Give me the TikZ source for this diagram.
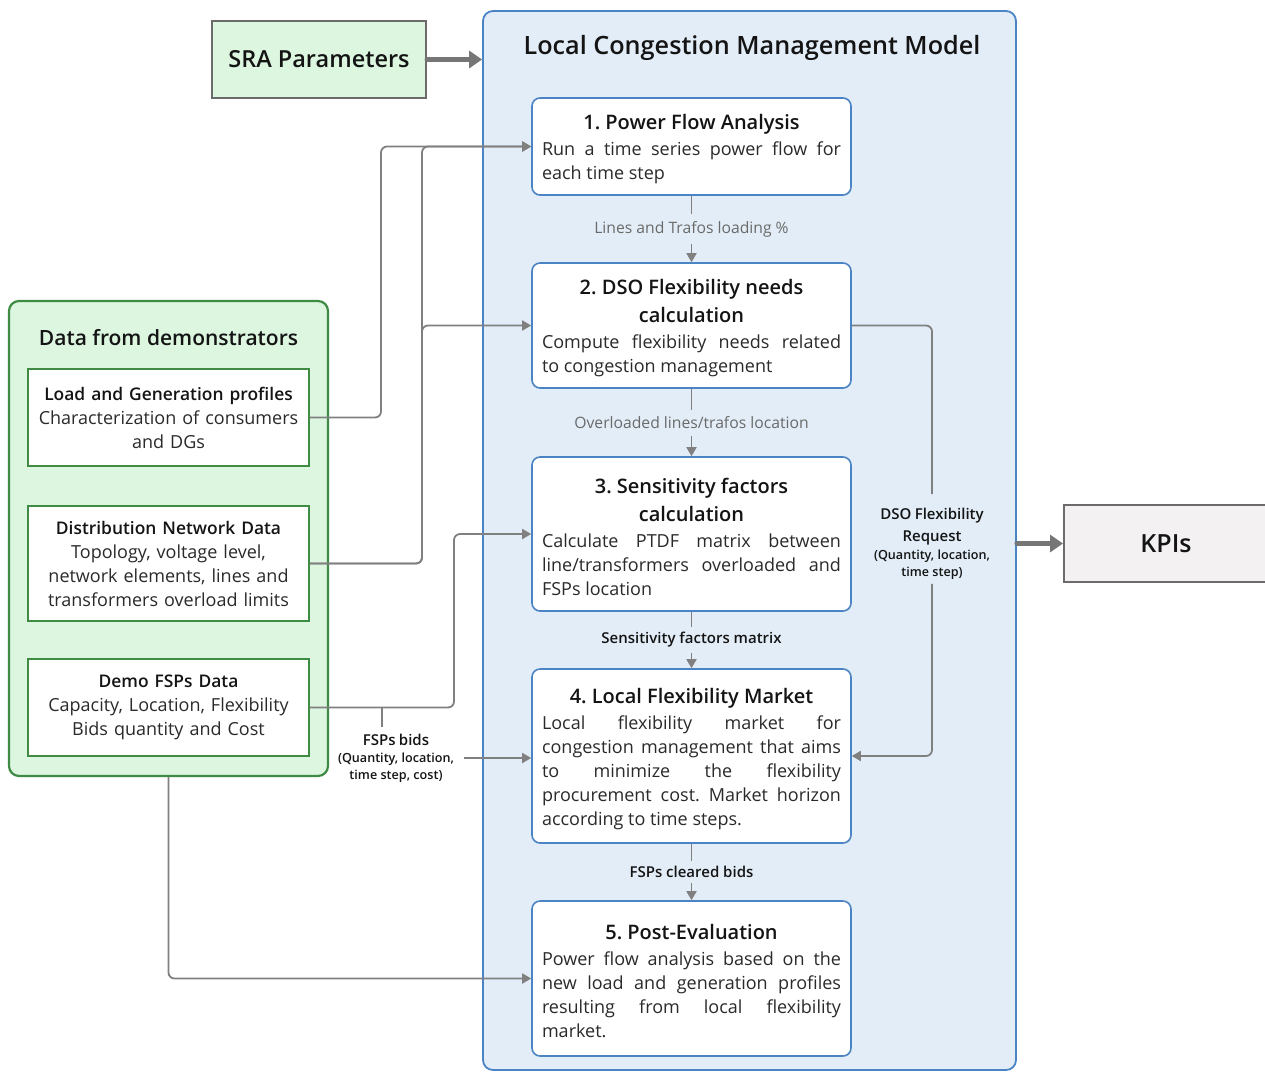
\documentclass[tikz,border=0pt]{standalone}
\usepackage{fontspec}
\setmainfont{Open Sans}
\IfFontExistsTF{Open Sans SemiBold}{\newfontfamily\semib{Open Sans SemiBold}}{%
  \IfFontExistsTF{Open Sans Semibold}{\newfontfamily\semib{Open Sans Semibold}}{%
    \newfontfamily\semib{Open Sans}[FakeBold=1.2]}}
\usetikzlibrary{arrows.meta}

% justified text without hyphenation
\hyphenpenalty=10000
\exhyphenpenalty=10000
\tolerance=10000
\frenchspacing

\definecolor{lcmfill}{HTML}{E3EDF7}
\definecolor{lcmline}{HTML}{4A84C4}
\definecolor{greenfill}{HTML}{DCF6E0}
\definecolor{greenline}{HTML}{3F8B44}
\definecolor{graybox}{HTML}{6B6B6B}
\definecolor{connGray}{HTML}{808080}
\definecolor{kpifill}{HTML}{F3F1F1}
\definecolor{titletxt}{HTML}{141414}
\definecolor{bodytxt}{HTML}{2A2A2A}
\definecolor{lbltxt}{HTML}{6A6A6A}

\newcommand{\bodysize}{\fontsize{18}{24}\selectfont}
\newcommand{\steptitle}[1]{{\centering\semib\color{titletxt}\fontsize{20}{28}\selectfont #1\par}\vspace{2pt}}
\newcommand{\stepend}{\par\vspace{-6pt}}
\newcommand{\datatitle}[1]{{\semib\color{titletxt}\fontsize{17.4}{24}\selectfont #1}}

\tikzset{
  stepbox/.style={draw=lcmline, line width=1.6pt, fill=white, rounded corners=8pt,
    text width=299pt, inner xsep=10pt, inner ysep=0pt, align=justify,
    font=\bodysize, text=bodytxt},
  databox/.style={draw=greenline, line width=2pt, fill=white, minimum width=281pt,
    text width=275pt, inner xsep=3pt, inner ysep=0pt, align=center,
    font=\bodysize, text=bodytxt},
  connector/.style={draw=connGray, line width=1.8pt, rounded corners=6pt},
  tip/.style={-{Triangle[length=9pt,width=10pt]}},
  bigarrow/.style={draw=connGray!92!black, line width=5pt, line cap=round,
    -{Triangle[length=13pt,width=17pt]}},
  flowlabel/.style={inner xsep=2pt, inner ysep=7pt, align=center},
  sidelabel/.style={inner sep=4pt, text width=140pt, align=center, text=titletxt},
}

\begin{document}
\begin{tikzpicture}[x=1pt, y=-1pt]
\useasboundingbox (0,0) rectangle (1265,1072);

% main model container
\node[draw=lcmline, line width=1.8pt, fill=lcmfill, rounded corners=10pt,
      minimum width=533pt, minimum height=1059pt, inner sep=0pt] (lcm) at (749.5,540.5) {};
\node[font=\semib\fontsize{25.2}{30}\selectfont, text=titletxt] (lcmtitle) at (752,48)
  {Local Congestion Management Model};

% external inputs and outputs
\node[draw=graybox, line width=2pt, fill=greenfill, minimum width=214pt, minimum height=77pt,
      font=\semib\fontsize{23.5}{30}\selectfont, text=titletxt] (sra) at (319,59.5) {SRA Parameters};
\node[draw=graybox, line width=2pt, fill=kpifill, minimum width=204pt, minimum height=77pt,
      font=\semib\fontsize{25}{30}\selectfont, text=titletxt] (kpi) at (1166,543.5) {KPIs};

% data container
\node[draw=greenline, line width=2.2pt, fill=greenfill, rounded corners=10pt,
      minimum width=319pt, minimum height=475pt, inner sep=0pt] (data) at (168.5,538.5) {};
\node[font=\semib\fontsize{21}{28}\selectfont, text=titletxt] (datatitle) at (168.5,338)
  {Data from demonstrators};

\node[databox, minimum height=97pt] (load) at (168.5,417.5)
  {\datatitle{Load and Generation profiles}\\
   Characterization of consumers\\and DGs};
\node[databox, minimum height=115pt] (dist) at (168.5,563.5)
  {\datatitle{Distribution Network Data}\\
   Topology, voltage level,\\network elements, lines and\\transformers overload limits};
\node[databox, minimum height=97pt] (fspd) at (168.5,707.5)
  {\datatitle{Demo FSPs Data}\\
   Capacity, Location, Flexibility\\Bids quantity and Cost};

% process steps
\node[stepbox, minimum height=97pt] (b1) at (691.5,146.5)
  {\steptitle{1. Power Flow Analysis}
   Run a time series power flow for\linebreak each time step\stepend};
\node[stepbox, minimum height=125pt] (b2) at (691.5,325.5)
  {\steptitle{2. DSO Flexibility needs\\calculation}
   Compute flexibility needs related\linebreak to congestion management\stepend};
\node[stepbox, minimum height=154pt] (b3) at (691.5,534)
  {\steptitle{3. Sensitivity factors\\calculation}
   Calculate PTDF matrix between\linebreak line/transformers overloaded and\linebreak FSPs location\stepend};
\node[stepbox, minimum height=174pt] (b4) at (691.5,756)
  {\steptitle{4. Local Flexibility Market}
   Local flexibility market for\linebreak congestion management that aims\linebreak
   to minimize the flexibility\linebreak procurement cost. Market horizon\linebreak
   according to time steps.\stepend};
\node[stepbox, minimum height=155pt] (b5) at (691.5,978.5)
  {\steptitle{5. Post-Evaluation}
   Power flow analysis based on the\linebreak new load and generation profiles\linebreak
   resulting from local flexibility\linebreak market.\stepend};

% labels on the flow between steps
\node[flowlabel, font=\fontsize{15.7}{18}\selectfont, text=lbltxt] (l1) at (691.5,229)
  {Lines and Trafos loading \%};
\node[flowlabel, font=\fontsize{15.7}{18}\selectfont, text=lbltxt] (l2) at (691.5,423)
  {Overloaded lines/trafos location};
\node[flowlabel, inner ysep=5pt, font=\semib\fontsize{15}{18}\selectfont, text=titletxt] (l3) at (691.5,640)
  {Sensitivity factors matrix};
\node[flowlabel, inner ysep=5pt, font=\semib\fontsize{15}{18}\selectfont, text=titletxt] (l4) at (691.5,872)
  {FSPs cleared bids};

\node[sidelabel] (dso) at (932,544)
  {{\semib\fontsize{15}{22}\selectfont DSO Flexibility\\Request\par}
   {\semib\fontsize{12.6}{17.5}\selectfont (Quantity, location,\\time step)\par}};
\node[sidelabel] (fspbids) at (396,758)
  {{\semib\fontsize{15}{19}\selectfont FSPs bids\par}
   {\semib\fontsize{12.6}{17}\selectfont (Quantity, location,\\time step, cost)\par}};

% flow between steps
\draw[connector] (b1.south) -- (l1.north);
\draw[connector, tip] (l1.south) -- (b2.north);
\draw[connector] (b2.south) -- (l2.north);
\draw[connector, tip] (l2.south) -- (b3.north);
\draw[connector] (b3.south) -- (l3.north);
\draw[connector, tip] (l3.south) -- (b4.north);
\draw[connector] (b4.south) -- (l4.north);
\draw[connector, tip] (l4.south) -- (b5.north);

% flexibility request from step 2 to the market
\draw[connector] (b2.east) -| ([yshift=10pt]dso.north);
\draw[connector, tip] (dso.south) |- (b4.east);

% demonstrator data feeding the steps
\draw[connector, tip] (load.east) -- ++(71,0) |- (b1.west);
\draw[connector, tip] (dist.east) -- ++(112,0) |- (b1.west);
\draw[connector, tip] (dist.east) -- ++(112,0) |- (b2.west);
\draw[connector, tip] (fspd.east) -- ++(144,0) |- (b3.west);
\draw[connector] ([xshift=-14pt,yshift=3pt]fspbids.north) -- ([xshift=-14pt]fspbids.north |- fspd.east);
\draw[connector, tip] ([xshift=-6pt]fspbids.east) -- (fspbids.east -| b4.west);
\draw[connector, tip] (data.south) |- (b5.west);

% model inputs and outputs
\draw[bigarrow] (sra.east) -- (sra.east -| lcm.west);
\draw[bigarrow] (lcm.east |- kpi.west) -- (kpi.west);
\end{tikzpicture}
\end{document}
